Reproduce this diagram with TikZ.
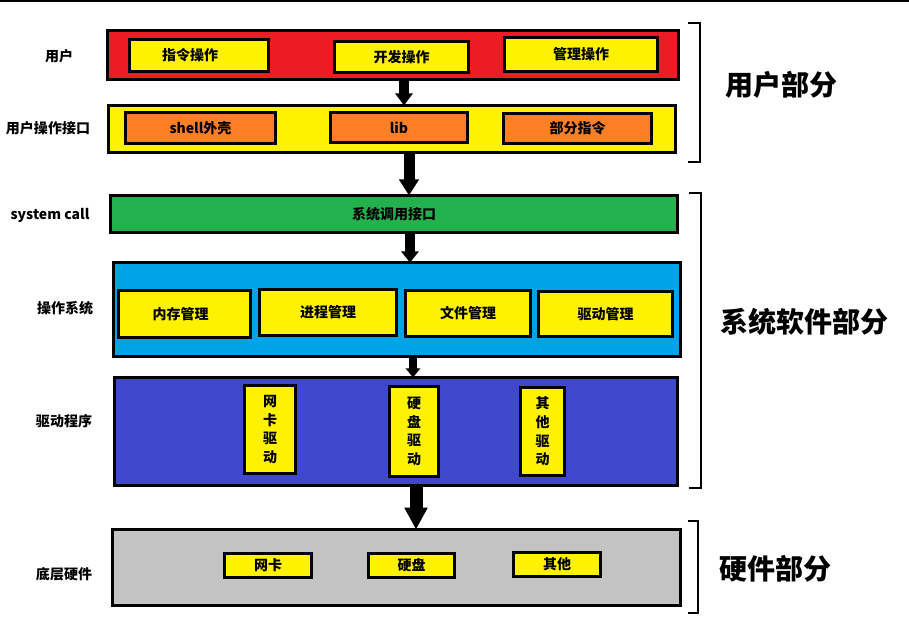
\documentclass[tikz,border=0pt]{standalone}
\usepackage{fontspec}
\setmainfont{Noto Sans CJK SC}
\usetikzlibrary{arrows.meta}
\definecolor{userRed}{HTML}{ED1C24}
\definecolor{boxYellow}{HTML}{FFF200}
\definecolor{boxOrange}{HTML}{FF7F27}
\definecolor{callGreen}{HTML}{22B14C}
\definecolor{osBlue}{HTML}{00A2E8}
\definecolor{drvIndigo}{HTML}{3F48CC}
\definecolor{hwGray}{HTML}{C3C3C3}
\tikzset{
  sz/.style 2 args={minimum width=#1*0.75pt, minimum height=#2*0.75pt},
  layer/.style={draw=black, line width=2.6pt, inner sep=0pt, outer sep=0pt},
  item/.style={draw=black, line width=2.3pt, fill=boxYellow, inner sep=0pt, outer sep=0pt,
    align=center, font=\bfseries\fontsize{10.5}{14}\selectfont},
  sidelabel/.style={font=\bfseries\fontsize{10.5}{13}\selectfont},
  partlabel/.style={font=\bfseries\fontsize{21}{25}\selectfont},
  bracket/.style={line width=1.8pt},
  flow/.style n args={3}{line width=#1*0.75pt,
    -{Triangle[width=#2*0.75pt, length=#3*0.75pt]}},
}
\begin{document}
\begin{tikzpicture}[x=0.75pt, y=-0.75pt]
\useasboundingbox (0,0) rectangle (909,630);
\fill[white] (0,0) rectangle (909,630);
% rule along the top edge
\draw[line width=1.5pt] (0,1) -- (909,1);

% user layer
\node[layer, fill=userRed, sz={571}{49}] (user) at (393,55) {};
\node[item, sz={139}{32}] (cmdop) at (199,55.5) {指令操作\hspace{13.5pt}};
\node[item, sz={134}{31}] (devop) at (401.5,57) {开发操作};
\node[item, sz={153}{34}] (mgmtop) at (581,54.5) {管理操作};

% user interface layer
\node[layer, fill=boxYellow, sz={567}{47}] (uif) at (392,129) {};
\node[item, fill=boxOrange, sz={150}{31}] (shell) at (200.5,128) {shell外壳};
\node[item, fill=boxOrange, sz={137}{30}] (lib) at (399,127.5) {lib};
\node[item, fill=boxOrange, sz={148}{30}] (part) at (577.5,128.5) {部分指令};

% system call layer
\node[layer, fill=callGreen, sz={567}{37}, font=\bfseries\fontsize{10.5}{13}\selectfont] (syscall) at (394,214) {系统调用接口};

% operating system layer
\node[layer, fill=osBlue, sz={567}{94}] (os) at (397,309.5) {};
\node[item, sz={132}{47}] (mem) at (184.5,314) {内存管理\hspace{6pt}};
\node[item, sz={137}{46}] (proc) at (328,312.5) {进程管理};
\node[item, sz={125}{46}] (file) at (468,313.5) {文件管理};
\node[item, sz={134}{45}] (drvm) at (605.5,314) {驱动管理};

% driver layer
\node[layer, fill=drvIndigo, sz={563}{108}] (drv) at (396,431.5) {};
\node[item, sz={51}{88}] (nicdrv) at (270,429.5) {网\\卡\\驱\\动};
\node[item, sz={49}{90}] (diskdrv) at (414,431.5) {硬\\盘\\驱\\动};
\node[item, sz={44}{88}] (otherdrv) at (542.5,431.5) {其\\他\\驱\\动};

% hardware layer
\node[layer, fill=hwGray, sz={568}{76}] (hw) at (396.5,567.5) {};
\node[item, sz={87}{24}] (nic) at (268,565.5) {网卡};
\node[item, sz={86}{24}] (disk) at (411.5,565.5) {硬盘};
\node[item, sz={87}{24}] (other) at (557,564.5) {其他};

% layer names on the left
\node[sidelabel] (lUser) at (59,56) {用户};
\node[sidelabel] (lUif) at (48,128) {用户操作接口};
\node[sidelabel] (lSys) at (50,215) {system call};
\node[sidelabel] (lOs) at (65,308) {操作系统};
\node[sidelabel] (lDrv) at (64,421) {驱动程序};
\node[sidelabel] (lHw) at (64,574) {底层硬件};

% downward flow between layers
\coordinate (f1) at (404,0);
\coordinate (f2) at (409,0);
\coordinate (f3) at (410,0);
\coordinate (f4) at (413,0);
\coordinate (f5) at (416,0);
\draw[flow={10}{17}{12}] (user.south -| f1) -- (uif.north -| f1);
\draw[flow={11}{19}{16}] (uif.south -| f2) -- (syscall.north -| f2);
\draw[flow={10}{17}{11}] (syscall.south -| f3) -- (os.north -| f3);
\draw[flow={8}{14}{9}] (os.south -| f4) -- (drv.north -| f4);
\draw[flow={13}{22}{22}] (drv.south -| f5) -- (hw.north -| f5);

% brackets grouping the layers
\draw[bracket] (688,23) -- (700,23) -- (700,162) -- (688,162);
\draw[bracket] (689,193) -- (701,193) -- (701,488) -- (689,488);
\draw[bracket] (688,521) -- (698,521) -- (698,613) -- (688,613);

\node[partlabel] (pUser) at (781,85) {用户部分};
\node[partlabel] (pSys) at (804,322) {系统软件部分};
\node[partlabel] (pHw) at (775,569) {硬件部分};
\end{tikzpicture}
\end{document}
